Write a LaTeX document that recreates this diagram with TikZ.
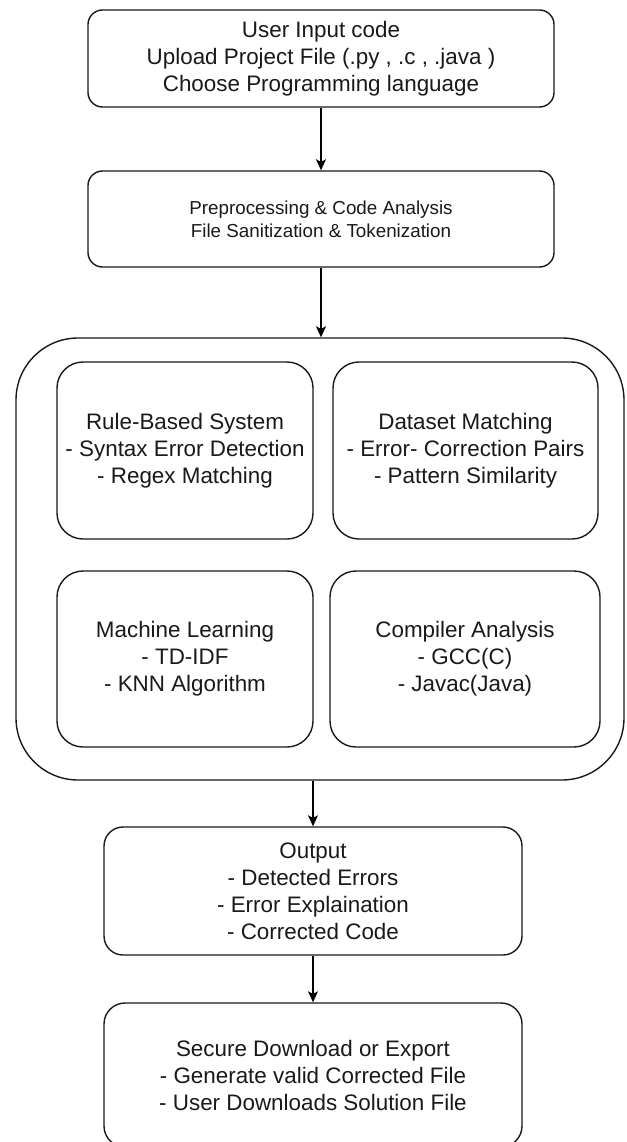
\documentclass[tikz,border=0pt]{standalone}
\usepackage{fontspec}
\setmainfont{Liberation Sans}
\usetikzlibrary{arrows.meta}
\tikzset{
  box/.style={draw=black!90, line width=1.4pt, align=center, inner sep=0pt, text=black!90,
    font=\fontsize{22.4}{27}\selectfont},
  smallbox/.style={box, font=\fontsize{18.8}{23}\selectfont},
  flow/.style={draw=black, line width=1.4pt, -{Stealth[length=11pt,width=10pt,inset=2.5pt]}}
}
\begin{document}
\begin{tikzpicture}[x=1pt,y=-1pt]
\useasboundingbox (0,0) rectangle (626,1142);
\begin{scope}
\clip (0,0) rectangle (626,1142);
\node[box, rounded corners=14.5pt, minimum width=466pt, minimum height=97pt] (input) at (321,58.5)
  {User Input code\\Upload Project File (.py , .c , .java )\\Choose Programming language};
\node[smallbox, rounded corners=14.5pt, minimum width=466pt, minimum height=96pt] (prep) at (321,219)
  {Preprocessing \& Code Analysis\\File Sanitization \& Tokenization};
\node[box, rounded corners=62pt, minimum width=608pt, minimum height=442pt] (cont) at (320,559) {};
\node[box, rounded corners=26pt, minimum width=256pt, minimum height=177pt] (rule) at (185,450.5)
  {Rule-Based System\\- Syntax Error Detection\\- Regex Matching};
\node[box, rounded corners=26pt, minimum width=265pt, minimum height=177pt] (data) at (465.5,450.5)
  {Dataset Matching\\- Error- Correction Pairs\\- Pattern Similarity};
\node[box, rounded corners=26pt, minimum width=256pt, minimum height=176pt] (ml) at (185,659)
  {Machine Learning\\- TD-IDF\\- KNN Algorithm};
\node[box, rounded corners=26pt, minimum width=270pt, minimum height=176pt] (comp) at (465,659)
  {Compiler Analysis\\- GCC(C)\\- Javac(Java)};
\node[box, rounded corners=19pt, minimum width=418pt, minimum height=128pt] (out) at (313,891)
  {Output\\- Detected Errors\\- Error Explaination\\- Corrected Code};
\node[box, rounded corners=21pt, minimum width=418pt, minimum height=144pt] (final) at (313,1075)
  {Secure Download or Export\\- Generate valid Corrected File\\- User Downloads Solution File};
\draw[flow] (input.south) -- (prep.north);
\draw[flow] (prep.south) -- (prep.south |- cont.north);
\draw[flow] (cont.south -| out.north) -- (out.north);
\draw[flow] (out.south) -- (final.north);
\end{scope}
\end{tikzpicture}
\end{document}
